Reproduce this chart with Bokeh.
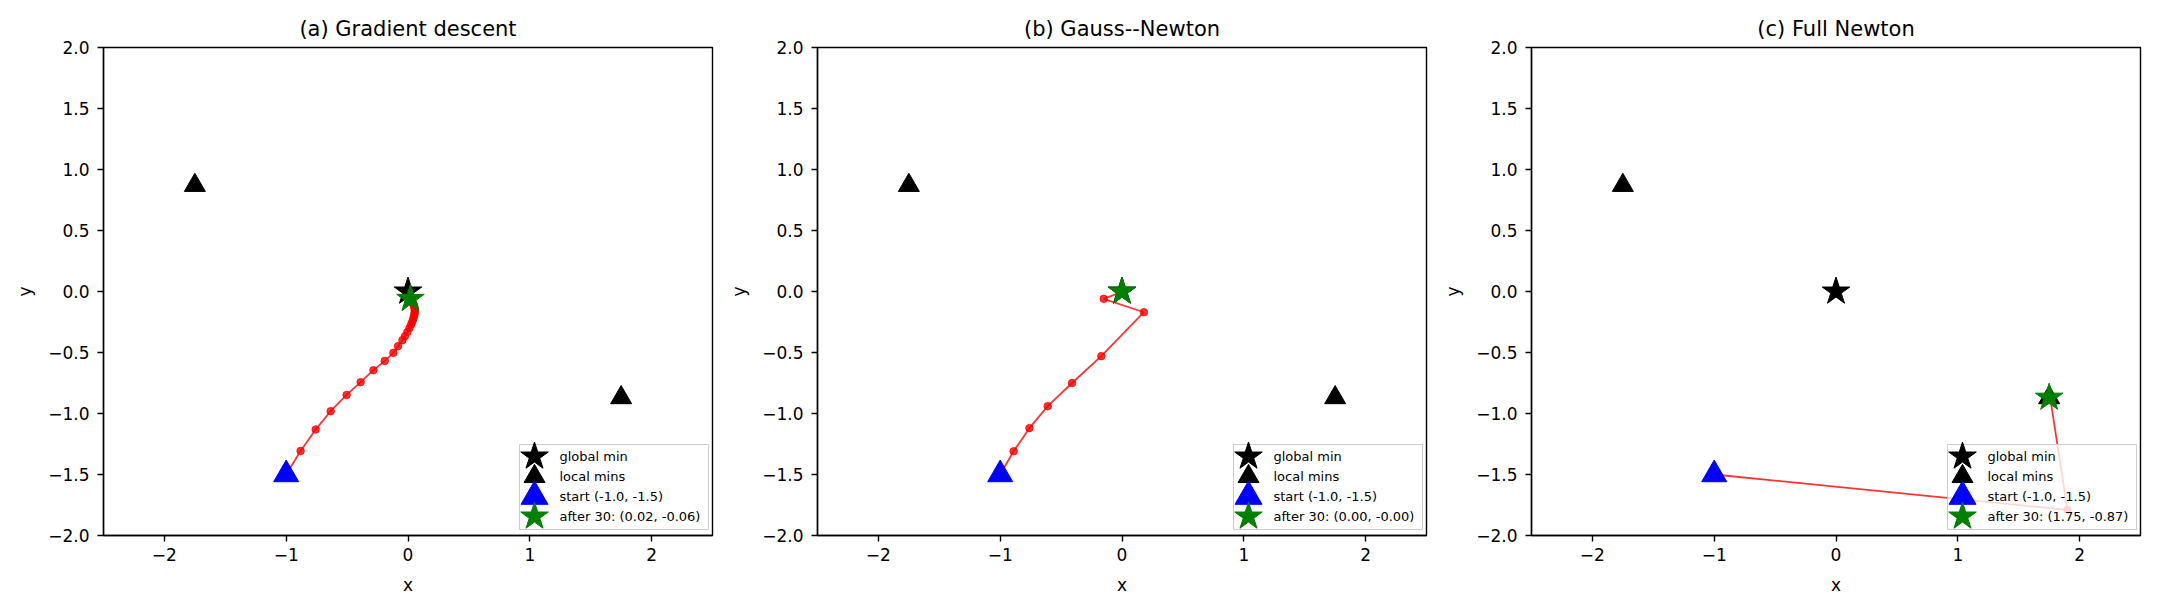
from bokeh.plotting import figure
from bokeh.models import Range1d, FixedTicker, CustomJSTickFormatter
from bokeh.layouts import row
from bokeh.core.properties import value
from bokeh.embed import file_html
from bokeh.resources import INLINE

FONT = "DejaVu Sans"

# data
titles = ["(a) Gradient descent", "(b) Gauss--Newton", "(c) Full Newton"]
global_min_x = [0.0]
global_min_y = [0.0]
local_min_x = [-1.75, 1.75]
local_min_y = [0.87, -0.87]
start_x = -1.0
start_y = -1.5

# (a) gradient descent iterates
gd_x = [-1.0, -0.882, -0.758, -0.635, -0.504, -0.389, -0.284, -0.191, -0.120, -0.082,
        -0.046, -0.025, -0.005, 0.012, 0.025, 0.035, 0.043, 0.049, 0.053, 0.055,
        0.056, 0.055, 0.053, 0.051, 0.048, 0.044, 0.040, 0.035, 0.030, 0.025, 0.02]
gd_y = [-1.5, -1.307, -1.131, -0.981, -0.848, -0.743, -0.645, -0.569, -0.503, -0.448,
        -0.399, -0.366, -0.331, -0.300, -0.272, -0.247, -0.225, -0.205, -0.187, -0.171,
        -0.157, -0.144, -0.132, -0.121, -0.111, -0.102, -0.094, -0.086, -0.078, -0.070, -0.06]

# (b) Gauss-Newton iterates
gn_x = [-1.0, -0.89, -0.76, -0.61, -0.41, -0.17, 0.18, -0.15, -0.02, 0.0,
        0.0, 0.0, 0.0, 0.0, 0.0, 0.0, 0.0, 0.0, 0.0, 0.0,
        0.0, 0.0, 0.0, 0.0, 0.0, 0.0, 0.0, 0.0, 0.0, 0.0, 0.0]
gn_y = [-1.5, -1.31, -1.12, -0.94, -0.75, -0.53, -0.17, -0.06, -0.01, -0.001,
        -0.001, -0.001, -0.001, -0.001, -0.001, -0.001, -0.001, -0.001, -0.001, -0.001,
        -0.001, -0.001, -0.001, -0.001, -0.001, -0.001, -0.001, -0.001, -0.001, -0.001, -0.001]

# (c) full Newton iterates
nt_x = [-1.0, 1.90, 1.76, 1.75, 1.75, 1.75, 1.75, 1.75, 1.75, 1.75,
        1.75, 1.75, 1.75, 1.75, 1.75, 1.75, 1.75, 1.75, 1.75, 1.75,
        1.75, 1.75, 1.75, 1.75, 1.75, 1.75, 1.75, 1.75, 1.75, 1.75, 1.75]
nt_y = [-1.5, -1.79, -0.88, -0.87, -0.87, -0.87, -0.87, -0.87, -0.87, -0.87,
        -0.87, -0.87, -0.87, -0.87, -0.87, -0.87, -0.87, -0.87, -0.87, -0.87,
        -0.87, -0.87, -0.87, -0.87, -0.87, -0.87, -0.87, -0.87, -0.87, -0.87, -0.87]

paths = [(gd_x, gd_y), (gn_x, gn_y), (nt_x, nt_y)]

x_ticks = [-2, -1, 0, 1, 2]
y_ticks = [-2.0, -1.5, -1.0, -0.5, 0.0, 0.5, 1.0, 1.5, 2.0]

FW, FH = 609, 488


def make_panel(title, px, py, left):
    p = figure(title=title, x_range=Range1d(-2.5, 2.5), y_range=Range1d(-2, 2),
               frame_width=FW, frame_height=FH,
               min_border_left=left, min_border_right=10, min_border_top=47, min_border_bottom=60,
               x_axis_label="x", y_axis_label="y",
               output_backend="svg", toolbar_location=None)
    p.extra_x_ranges = {"lx": Range1d(0, FW)}
    p.extra_y_ranges = {"ly": Range1d(0, FH)}
    p.grid.visible = False
    p.background_fill_color = "white"
    p.outline_line_color = "black"
    p.outline_line_width = 1.4
    p.outline_line_alpha = 1.0

    p.title.text_font = FONT
    p.title.text_font_size = "21px"
    p.title.text_font_style = "normal"
    p.title.text_color = "black"
    p.title.align = "center"
    p.title.standoff = 13

    for ax in p.axis:
        ax.axis_line_color = "black"
        ax.axis_line_width = 1.4
        ax.major_tick_line_color = "black"
        ax.major_tick_line_width = 1.4
        ax.major_tick_out = 6
        ax.major_tick_in = 0
        ax.minor_tick_out = 0
        ax.minor_tick_in = 0
        ax.major_label_text_font = FONT
        ax.major_label_text_font_size = "17px"
        ax.major_label_text_color = "black"
        ax.axis_label_text_font = FONT
        ax.axis_label_text_font_size = "17px"
        ax.axis_label_text_font_style = "normal"
        ax.axis_label_text_color = "black"
    p.xaxis.ticker = FixedTicker(ticks=x_ticks)
    p.yaxis.ticker = FixedTicker(ticks=y_ticks)
    p.xaxis.formatter = CustomJSTickFormatter(
        code="return (tick < 0 ? '\u2212' : '') + Math.abs(tick).toFixed(0);")
    p.yaxis.formatter = CustomJSTickFormatter(
        code="return (tick < -1e-9 ? '\u2212' : '') + Math.abs(tick).toFixed(1);")
    p.xaxis.major_label_standoff = 6
    p.yaxis.major_label_standoff = 8
    p.xaxis.axis_label_standoff = 11
    p.yaxis.axis_label_standoff = 10

    # minima
    p.scatter(local_min_x, local_min_y, marker="triangle", size=21, color="black")
    p.scatter(global_min_x, global_min_y, marker="star", size=29, color="black")
    # iterates
    p.line(px, py, line_color="red", line_width=1.8, line_alpha=0.8)
    p.scatter(px, py, marker="circle", size=7.5, color="red", alpha=0.8)
    p.scatter([start_x], [start_y], marker="triangle", size=25, color="blue")
    p.scatter([px[-1]], [py[-1]], marker="star", size=29, color="green")

    # legend (drawn in frame pixel units, lower right)
    labels = ["global min", "local mins",
              "start (%.1f, %.1f)" % (start_x, start_y),
              "after %d: (%.2f, %.2f)" % (len(px) - 1, px[-1], py[-1])]
    rows_y = [79, 59, 39, 19]
    p.quad(left=[416], right=[605], bottom=[6], top=[91], x_range_name="lx", y_range_name="ly",
           fill_color="white", fill_alpha=0.8, line_color="#cccccc", line_width=1)
    p.scatter([431], [rows_y[0]], marker="star", size=29, color="black",
              x_range_name="lx", y_range_name="ly")
    p.scatter([431], [rows_y[1]], marker="triangle", size=21, color="black",
              x_range_name="lx", y_range_name="ly")
    p.scatter([431], [rows_y[2]], marker="triangle", size=27, color="blue",
              x_range_name="lx", y_range_name="ly")
    p.scatter([431], [rows_y[3]], marker="star", size=29, color="green",
              x_range_name="lx", y_range_name="ly")
    p.text(x=[456] * 4, y=rows_y, text=labels, text_font=value(FONT), text_font_size="13px",
           text_baseline="middle", text_align="left", text_color="black",
           x_range_name="lx", y_range_name="ly")
    return p


panels = [make_panel(t, px, py, 103 if i == 0 else 95)
          for i, (t, (px, py)) in enumerate(zip(titles, paths))]
layout = row(*panels)

open("out.html", "w").write(file_html(layout, INLINE))
